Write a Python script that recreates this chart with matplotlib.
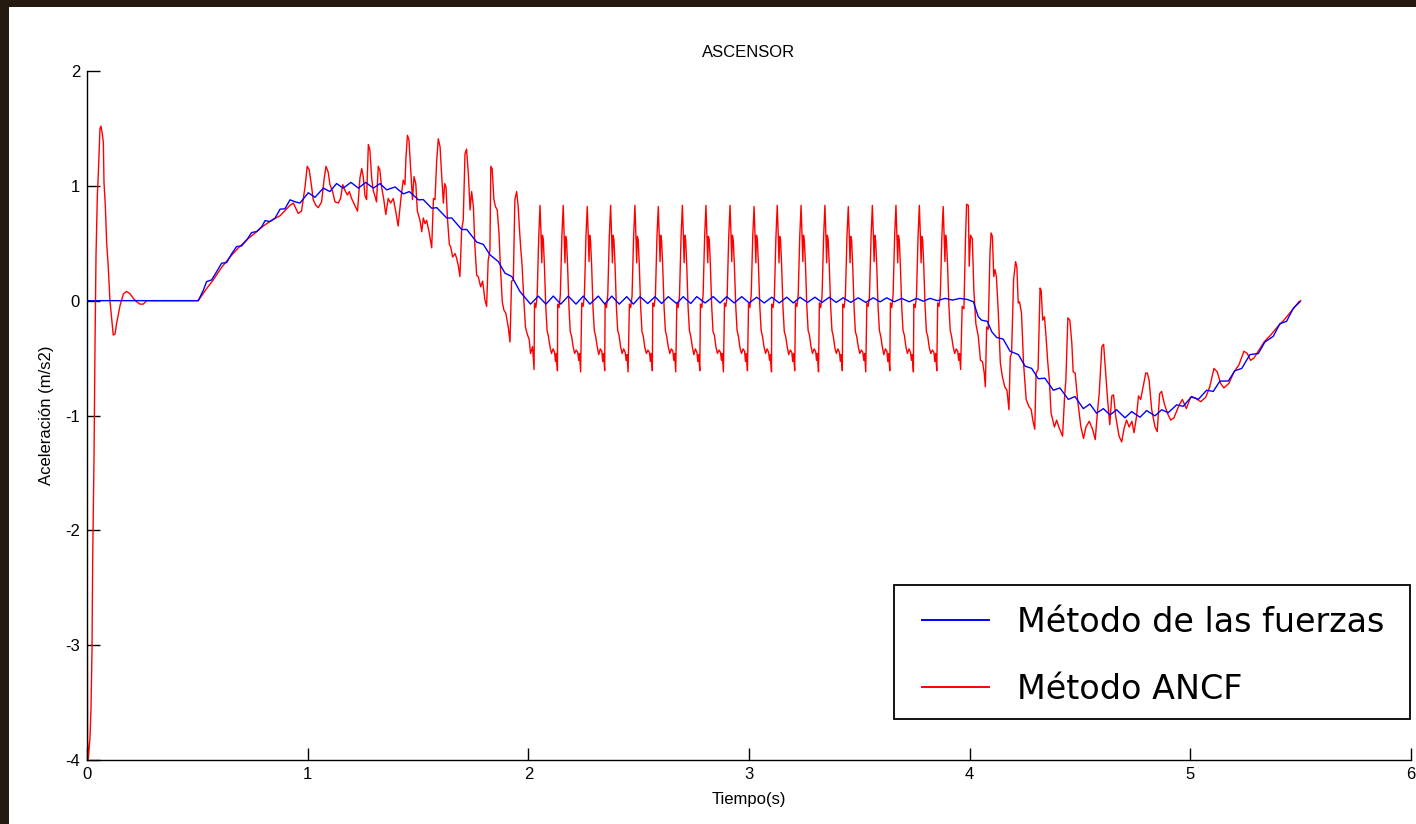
import matplotlib.pyplot as plt
from matplotlib.patches import Rectangle

plt.rcParams['axes.unicode_minus'] = False

# ---- Metodo de las fuerzas (azul) ----
t_fuerzas = [0.0, 0.504, 0.527, 0.542, 0.565, 0.588, 0.610, 0.633, 0.655, 0.678, 0.701, 0.724,
             0.746, 0.769, 0.792, 0.807, 0.829, 0.852, 0.875, 0.897, 0.920, 0.945, 0.965,
             1.003, 1.033, 1.071, 1.101, 1.131, 1.161, 1.196, 1.230, 1.263, 1.298, 1.328,
             1.358, 1.396, 1.434, 1.461, 1.502, 1.524, 1.562, 1.585, 1.630, 1.653, 1.698,
             1.721, 1.766, 1.796, 1.826, 1.864, 1.894, 1.925, 1.962, 2.010]
a_fuerzas = [0.0, 0.0, 0.09, 0.166, 0.181, 0.254, 0.326, 0.332, 0.407, 0.471, 0.477, 0.529,
             0.593, 0.602, 0.645, 0.697, 0.689, 0.718, 0.797, 0.80, 0.878, 0.86, 0.85,
             0.94, 0.90, 0.98, 0.95, 1.02, 0.98, 1.03, 0.98, 1.03, 0.98, 1.02,
             0.965, 0.99, 0.93, 0.95, 0.878, 0.88, 0.805, 0.81, 0.72, 0.72, 0.62,
             0.62, 0.51, 0.49, 0.40, 0.34, 0.24, 0.21, 0.08, -0.03]

# oscilacion alrededor de cero (2 s - 4 s)
t_osc = [2.045, 2.080, 2.113, 2.147, 2.181, 2.216, 2.249, 2.279, 2.317, 2.347, 2.378, 2.412,
         2.446, 2.476, 2.506, 2.541, 2.574, 2.604, 2.634, 2.672, 2.702, 2.736, 2.763, 2.801,
         2.838, 2.869, 2.899, 2.933, 2.967, 3.001, 3.035, 3.069, 3.103, 3.137, 3.171, 3.201,
         3.231, 3.265, 3.299, 3.331, 3.364, 3.395, 3.427, 3.461, 3.495, 3.529, 3.563, 3.594,
         3.624, 3.658, 3.692, 3.726, 3.760, 3.790, 3.820, 3.854, 3.888, 3.922, 3.956, 3.990]
a_osc = [0.04, -0.03, 0.04, -0.03, 0.04, -0.03, 0.04, -0.03, 0.04, -0.03, 0.04, -0.03,
         0.035, -0.03, 0.035, -0.025, 0.035, -0.025, 0.035, -0.025, 0.035, -0.025, 0.035, -0.02,
         0.035, -0.02, 0.035, -0.02, 0.035, -0.02, 0.03, -0.02, 0.03, -0.02, 0.03, -0.02,
         0.03, -0.015, 0.03, -0.015, 0.03, -0.015, 0.025, -0.015, 0.025, -0.015, 0.025, -0.01,
         0.025, -0.01, 0.02, -0.01, 0.02, -0.005, 0.02, 0.0, 0.02, 0.005, 0.02, 0.01]

t_frenado = [4.017, 4.039, 4.054, 4.080, 4.100, 4.122, 4.152, 4.183, 4.221, 4.251, 4.281, 4.311,
             4.341, 4.379, 4.409, 4.447, 4.477, 4.515, 4.545, 4.575, 4.606, 4.636, 4.666, 4.704,
             4.734, 4.772, 4.802, 4.840, 4.870, 4.900, 4.938, 4.968, 5.006, 5.036, 5.074, 5.104,
             5.134, 5.172, 5.202, 5.233, 5.270, 5.308, 5.338, 5.376, 5.406, 5.436, 5.467, 5.497]
a_frenado = [-0.01, -0.14, -0.17, -0.18, -0.27, -0.32, -0.335, -0.44, -0.47, -0.57, -0.59, -0.68,
             -0.675, -0.78, -0.76, -0.86, -0.835, -0.94, -0.90, -0.98, -0.94, -0.995, -0.95, -1.02,
             -0.966, -1.015, -0.957, -1.003, -0.95, -0.975, -0.907, -0.92, -0.835, -0.86, -0.78, -0.79,
             -0.70, -0.70, -0.61, -0.59, -0.47, -0.46, -0.36, -0.31, -0.20, -0.18, -0.065, -0.01]

# ---- Metodo ANCF (rojo) ----
t_ancf_ini = [0.0, 0.001, 0.0025, 0.006, 0.0136, 0.018, 0.0227, 0.0257, 0.0317, 0.0363, 0.0408,
              0.0468, 0.0514, 0.0589, 0.0634, 0.0695, 0.074, 0.077, 0.083, 0.089, 0.0967, 0.104,
              0.112, 0.119, 0.127, 0.134, 0.150, 0.165, 0.180, 0.195, 0.210, 0.225, 0.240, 0.255,
              0.270, 0.504, 0.540, 0.572, 0.610, 0.648, 0.686, 0.724, 0.762, 0.799, 0.837, 0.875,
              0.900, 0.920, 0.935, 0.957, 0.972, 0.988, 0.998, 1.007, 1.018, 1.025, 1.037, 1.048,
              1.063, 1.074, 1.083, 1.093, 1.101, 1.113, 1.124, 1.139, 1.149, 1.159, 1.169, 1.180,
              1.189, 1.199, 1.214, 1.226, 1.237, 1.245, 1.252, 1.260, 1.267, 1.275, 1.282, 1.290,
              1.297, 1.305, 1.312, 1.320, 1.327, 1.335, 1.345, 1.354, 1.365, 1.376, 1.388, 1.398,
              1.410, 1.422, 1.433, 1.441, 1.445, 1.452, 1.459, 1.467, 1.475, 1.482, 1.490, 1.497,
              1.509, 1.517, 1.524, 1.532, 1.539, 1.551, 1.562, 1.570, 1.577, 1.585, 1.592, 1.600,
              1.607, 1.615, 1.621, 1.627, 1.633, 1.642, 1.648, 1.657, 1.668, 1.675, 1.683, 1.690,
              1.698, 1.705, 1.713, 1.720, 1.728, 1.736, 1.743, 1.751, 1.758, 1.766, 1.773, 1.784,
              1.793, 1.803, 1.811, 1.818, 1.826, 1.830, 1.836, 1.844, 1.851, 1.859, 1.867, 1.874,
              1.882, 1.889, 1.898, 1.909, 1.917, 1.924, 1.932, 1.939, 1.947, 1.954, 1.959, 1.965,
              1.972, 1.980, 1.987, 1.995, 2.004, 2.010, 2.019, 2.026]
a_ancf_ini = [0.0, -2.40, -3.83, -3.99, -3.80, -3.56, -3.04, -2.25, -1.38, -0.39, 0.39,
              0.91, 1.11, 1.50, 1.52, 1.45, 1.38, 1.03, 0.83, 0.51, 0.28, 0.0,
              -0.16, -0.30, -0.29, -0.20, -0.04, 0.06, 0.08, 0.06, 0.02, -0.01, -0.03, -0.03,
              0.0, 0.0, 0.10, 0.18, 0.29, 0.38, 0.46, 0.53, 0.59, 0.65, 0.70, 0.74,
              0.79, 0.83, 0.85, 0.76, 0.78, 0.99, 1.17, 1.14, 0.99, 0.88, 0.83, 0.81,
              0.86, 1.05, 1.17, 1.12, 1.01, 0.95, 0.86, 0.85, 0.89, 1.01, 0.96, 0.92,
              0.95, 0.89, 0.83, 0.78, 1.07, 1.15, 1.08, 0.91, 0.88, 1.36, 1.31, 1.07,
              0.96, 0.91, 0.86, 1.17, 1.14, 0.99, 0.88, 0.75, 0.89, 0.85, 0.89, 0.79,
              0.65, 0.88, 1.05, 1.01, 1.23, 1.44, 1.40, 1.14, 0.88, 1.08, 1.02, 0.78,
              0.70, 0.60, 0.72, 0.67, 0.70, 0.59, 0.46, 0.89, 0.88, 1.23, 1.41, 1.34,
              1.10, 0.85, 1.02, 0.99, 0.73, 0.49, 0.47, 0.38, 0.41, 0.37, 0.30, 0.21,
              0.62, 0.70, 1.28, 1.32, 1.11, 0.79, 0.95, 0.82, 0.47, 0.22, 0.21, 0.12,
              0.17, 0.01, -0.05, 0.35, 0.44, 1.17, 1.15, 0.88, 0.82, 0.79, 0.59, 0.27,
              -0.01, -0.08, -0.11, -0.23, -0.36, 0.17, 0.18, 0.88, 0.95, 0.82, 0.65, 0.47,
              0.30, -0.01, -0.23, -0.29, -0.34, -0.46, -0.40, -0.60]

# ciclos casi identicos de la fase de velocidad constante
ciclo_pico = [2.053, 2.158, 2.267, 2.373, 2.483, 2.589, 2.698, 2.805, 2.914,
              3.023, 3.128, 3.236, 3.344, 3.450, 3.559, 3.666, 3.772, 3.880]
ciclo_desfase = [-0.025, -0.019, -0.013, -0.006, 0.000, 0.004, 0.008, 0.011, 0.015, 0.020,
                 0.026, 0.032, 0.038, 0.045, 0.052, 0.059, 0.066, 0.070, 0.074, 0.079]
ciclo_a = [
    [-0.02, -0.06, 0.04, 0.55, 0.83, 0.60, 0.33, 0.57, 0.53, 0.30, -0.05, -0.26, -0.31, -0.40, -0.46, -0.42, -0.45, -0.53, -0.46, -0.61],
    [-0.03, -0.06, 0.05, 0.56, 0.83, 0.59, 0.33, 0.56, 0.53, 0.30, -0.05, -0.27, -0.31, -0.40, -0.46, -0.43, -0.45, -0.52, -0.46, -0.62],
    [-0.02, -0.05, 0.04, 0.55, 0.82, 0.60, 0.34, 0.57, 0.52, 0.30, -0.06, -0.26, -0.31, -0.40, -0.47, -0.42, -0.44, -0.53, -0.46, -0.61],
    [-0.02, -0.06, 0.05, 0.56, 0.83, 0.59, 0.33, 0.57, 0.53, 0.31, -0.05, -0.26, -0.30, -0.40, -0.46, -0.42, -0.45, -0.52, -0.47, -0.62],
    [-0.03, -0.06, 0.04, 0.55, 0.83, 0.60, 0.33, 0.56, 0.53, 0.30, -0.05, -0.27, -0.31, -0.41, -0.46, -0.43, -0.45, -0.53, -0.46, -0.61],
    [-0.02, -0.05, 0.05, 0.56, 0.82, 0.59, 0.34, 0.57, 0.52, 0.30, -0.05, -0.26, -0.31, -0.40, -0.46, -0.42, -0.44, -0.52, -0.46, -0.62],
    [-0.02, -0.06, 0.04, 0.55, 0.83, 0.60, 0.33, 0.57, 0.53, 0.30, -0.06, -0.26, -0.31, -0.40, -0.47, -0.42, -0.45, -0.53, -0.47, -0.61],
    [-0.03, -0.06, 0.05, 0.56, 0.83, 0.59, 0.33, 0.56, 0.53, 0.31, -0.05, -0.27, -0.30, -0.40, -0.46, -0.43, -0.45, -0.52, -0.46, -0.62],
    [-0.02, -0.05, 0.04, 0.55, 0.83, 0.60, 0.34, 0.57, 0.52, 0.30, -0.05, -0.26, -0.31, -0.41, -0.46, -0.42, -0.44, -0.53, -0.46, -0.61],
    [-0.02, -0.06, 0.05, 0.56, 0.82, 0.59, 0.33, 0.57, 0.53, 0.30, -0.05, -0.26, -0.31, -0.40, -0.46, -0.42, -0.45, -0.52, -0.47, -0.62],
    [-0.03, -0.06, 0.04, 0.55, 0.83, 0.60, 0.33, 0.56, 0.53, 0.30, -0.06, -0.27, -0.31, -0.40, -0.47, -0.43, -0.45, -0.53, -0.46, -0.61],
    [-0.02, -0.05, 0.05, 0.56, 0.83, 0.59, 0.34, 0.57, 0.52, 0.31, -0.05, -0.26, -0.30, -0.40, -0.46, -0.42, -0.44, -0.52, -0.46, -0.62],
    [-0.02, -0.06, 0.04, 0.55, 0.83, 0.60, 0.33, 0.57, 0.53, 0.30, -0.05, -0.26, -0.31, -0.41, -0.46, -0.42, -0.45, -0.53, -0.47, -0.61],
    [-0.03, -0.06, 0.05, 0.56, 0.82, 0.59, 0.33, 0.56, 0.53, 0.30, -0.05, -0.27, -0.31, -0.40, -0.46, -0.43, -0.45, -0.52, -0.46, -0.62],
    [-0.02, -0.05, 0.04, 0.55, 0.83, 0.60, 0.34, 0.57, 0.52, 0.30, -0.06, -0.26, -0.31, -0.40, -0.47, -0.42, -0.44, -0.53, -0.46, -0.61],
    [-0.02, -0.06, 0.05, 0.56, 0.83, 0.59, 0.33, 0.57, 0.53, 0.31, -0.05, -0.26, -0.30, -0.40, -0.46, -0.42, -0.45, -0.52, -0.47, -0.62],
    [-0.03, -0.06, 0.04, 0.55, 0.83, 0.60, 0.33, 0.56, 0.53, 0.30, -0.05, -0.27, -0.31, -0.41, -0.46, -0.43, -0.45, -0.53, -0.46, -0.61],
    [-0.02, -0.05, 0.05, 0.56, 0.82, 0.59, 0.34, 0.57, 0.52, 0.30, -0.05, -0.26, -0.31, -0.40, -0.46, -0.42, -0.44, -0.52, -0.46, -0.60],
]

t_ancf_fin = [3.966, 3.974, 3.981, 3.986, 3.994, 3.998, 4.004, 4.012, 4.019, 4.028, 4.039, 4.049,
              4.058, 4.066, 4.071, 4.077, 4.084, 4.092, 4.097, 4.103, 4.109, 4.115, 4.121, 4.130,
              4.139, 4.148, 4.159, 4.169, 4.178, 4.184, 4.190, 4.199, 4.208, 4.214, 4.220, 4.226,
              4.235, 4.244, 4.256, 4.268, 4.279, 4.286, 4.295, 4.301, 4.310, 4.319, 4.324, 4.331,
              4.339, 4.346, 4.354, 4.361, 4.369, 4.384, 4.394, 4.406, 4.421, 4.430, 4.436, 4.445,
              4.454, 4.463, 4.469, 4.478, 4.489, 4.504, 4.516, 4.527, 4.542, 4.557, 4.569, 4.580,
              4.587, 4.599, 4.607, 4.614, 4.625, 4.635, 4.644, 4.652, 4.662, 4.677, 4.689, 4.700,
              4.711, 4.723, 4.735, 4.745, 4.756, 4.765, 4.775, 4.786, 4.798, 4.805, 4.813, 4.825,
              4.840, 4.850, 4.861, 4.870, 4.881, 4.896, 4.911, 4.926, 4.949, 4.964, 4.982, 5.001,
              5.024, 5.047, 5.070, 5.088, 5.107, 5.122, 5.137, 5.152, 5.175, 5.198, 5.220, 5.243,
              5.258, 5.273, 5.288, 5.311, 5.334, 5.364, 5.394, 5.424, 5.454, 5.492, 5.500]
a_ancf_fin = [-0.05, -0.07, 0.53, 0.84, 0.83, 0.30, 0.57, 0.54, 0.09, -0.20, -0.31, -0.52,
              -0.53, -0.63, -0.75, -0.23, -0.25, 0.41, 0.59, 0.56, 0.21, 0.27, 0.21, -0.11,
              -0.54, -0.66, -0.75, -0.78, -0.95, -0.49, -0.46, 0.18, 0.34, 0.29, -0.02, -0.01,
              -0.11, -0.54, -0.86, -0.92, -0.95, -1.04, -1.12, -0.63, -0.60, 0.11, 0.09, -0.17,
              -0.14, -0.31, -0.54, -0.69, -0.98, -1.10, -1.04, -1.11, -1.18, -0.84, -0.69, -0.15,
              -0.17, -0.37, -0.62, -0.63, -0.86, -1.10, -1.20, -1.10, -1.05, -1.12, -1.21, -0.95,
              -0.81, -0.40, -0.38, -0.57, -0.86, -1.08, -0.83, -0.82, -1.01, -1.18, -1.23, -1.11,
              -1.04, -1.10, -1.05, -1.15, -1.01, -0.83, -0.86, -0.75, -0.63, -0.63, -0.69, -0.95,
              -1.10, -1.14, -0.81, -0.79, -0.89, -0.98, -1.04, -1.02, -0.91, -0.86, -0.94, -0.84,
              -0.85, -0.88, -0.84, -0.75, -0.59, -0.62, -0.72, -0.76, -0.72, -0.62, -0.56, -0.44,
              -0.46, -0.52, -0.50, -0.43, -0.36, -0.30, -0.23, -0.17, -0.10, -0.01, 0.0]

# ---- montar las series ----
t_azul = t_fuerzas + t_osc + t_frenado
a_azul = a_fuerzas + a_osc + a_frenado

t_rojo = list(t_ancf_ini)
a_rojo = list(a_ancf_ini)
for pico, fila in zip(ciclo_pico, ciclo_a):
    t_rojo += [pico + d for d in ciclo_desfase]
    a_rojo += fila
t_rojo += t_ancf_fin
a_rojo += a_ancf_fin

# ---- figura ----
fig = plt.figure(figsize=(14.16, 8.24), dpi=100, facecolor='#241a10')
fondo = Rectangle((9 / 1416, 0), 1, 1 - 7 / 824, transform=fig.transFigure,
                  facecolor='white', edgecolor='none', zorder=-10)
fig.patches.append(fondo)
ax = fig.add_axes([87 / 1416, 1 - 760 / 824, (1411 - 87) / 1416, (760 - 71) / 824])
ax.set_facecolor('white')

ax.plot(t_rojo, a_rojo, color='#ff0000', lw=1.0, label='Método ANCF', zorder=2)
ax.plot(t_azul, a_azul, color='#0000ff', lw=1.0, label='Método de las fuerzas', zorder=3)

ax.set_xlim(0, 6)
ax.set_ylim(-4, 2)
ax.set_xticks(range(0, 7))
ax.set_yticks(range(-4, 3))

for s in ['top', 'right']:
    ax.spines[s].set_visible(False)
for s in ['left', 'bottom']:
    ax.spines[s].set_linewidth(1.0)

ax.tick_params(direction='in', length=9, width=1.0, pad=5, labelsize=12)
for lab in ax.get_xticklabels() + ax.get_yticklabels():
    lab.set_fontfamily('Liberation Sans')

ax.set_title('ASCENSOR', fontsize=12, family='Liberation Sans', pad=10)
ax.set_xlabel('Tiempo(s)', fontsize=12, family='Liberation Sans', labelpad=7)
ax.set_ylabel('Aceleración (m/s2)', fontsize=12, family='Liberation Sans', labelpad=8)

# caja de la leyenda
caja = Rectangle((894 / 1416, 1 - 719 / 824), (1410 - 894) / 1416, (719 - 585) / 824,
                 transform=fig.transFigure, facecolor='white', edgecolor='black',
                 linewidth=1.3, zorder=4)
ax.add_artist(caja)

h, l = ax.get_legend_handles_labels()
leg = ax.legend(h[::-1], l[::-1], loc='upper left',
                bbox_to_anchor=(922 / 1416, 1 - 606 / 824), bbox_transform=fig.transFigure,
                borderaxespad=0, borderpad=0, frameon=False,
                prop={'family': 'DejaVu Sans', 'size': 24},
                handlelength=2.0, handletextpad=0.85, labelspacing=1.01)
leg.set_zorder(5)
for line in leg.get_lines():
    line.set_linewidth(1.4)

fig.savefig('out.png', dpi=100, facecolor=fig.get_facecolor())
